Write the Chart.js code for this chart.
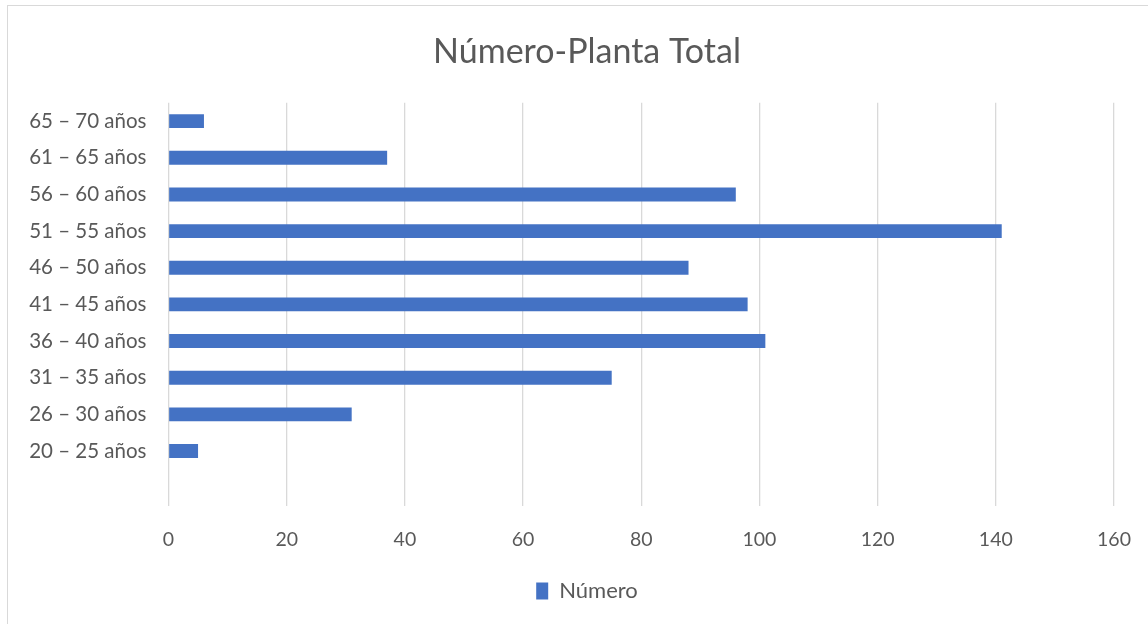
<!DOCTYPE html>
<html>
<head>
<meta charset="utf-8">
<script src="https://cdn.jsdelivr.net/npm/chart.js@4/dist/chart.umd.min.js"></script>
<style>
  html, body { margin: 0; padding: 0; background: #fff; overflow: hidden; }
  #cadre {
    position: absolute; left: 7px; top: 5px; width: 1160px; height: 640px;
    border-left: 1.5px solid #d9d9d9; border-top: 1.5px solid #d9d9d9;
  }
  #graphique { position: absolute; left: 0; top: 0; width: 1148px; height: 624px; }
</style>
</head>
<body>
<div id="cadre"></div>
<canvas id="graphique" width="1148" height="624"></canvas>
<script>
// categories de bas en haut (comme dans Excel), la premiere est vide
var tranches = ['', '20 – 25 años', '26 – 30 años', '31 – 35 años', '36 – 40 años', '41 – 45 años',
    '46 – 50 años', '51 – 55 años', '56 – 60 años', '61 – 65 años', '65 – 70 años'];
var numero = [null, 5, 31, 75, 101, 98, 88, 141, 96, 37, 6];
var xMin = 0;
var xMax = 160;
var xPas = 20;

Chart.defaults.font.family = 'Lato, "Open Sans", sans-serif';
Chart.defaults.color = '#595959';

// les libelles de l'axe y debordent a gauche de la boite de l'axe : pas de clip
Chart.CategoryScale.prototype._computeLabelArea = function () { return null; };

var ctx = document.getElementById('graphique').getContext('2d');
var graphique = new Chart(ctx, {
    type: 'bar',
    data: {
        labels: tranches,
        datasets: [
            {
                label: 'Número',
                data: numero,
                backgroundColor: '#4472C4',
                borderWidth: 0,
                barPercentage: 0.38,
                categoryPercentage: 1
            }
        ]
    },
    options: {
        indexAxis: 'y',
        responsive: false,
        maintainAspectRatio: false,
        animation: false,
        devicePixelRatio: 1,
        // le titre et la legende sont centres un peu a droite, comme dans Excel
        layout: { padding: { left: 60, right: 34, top: 0, bottom: 12 } },
        plugins: {
            title: {
                display: true,
                text: 'Número-Planta Total',
                color: '#595959',
                font: { size: 34, weight: 'normal' },
                padding: { top: 32, bottom: 30 }
            },
            legend: {
                position: 'bottom',
                labels: {
                    boxWidth: 12,
                    boxHeight: 17,
                    color: '#595959',
                    font: { size: 22 },
                    padding: 10
                }
            },
            tooltip: { enabled: false }
        },
        scales: {
            x: {
                min: xMin,
                max: xMax,
                ticks: { stepSize: xPas, padding: 22, font: { size: 19.5 }, color: '#595959' },
                grid: { color: '#d9d9d9', lineWidth: 1.3, drawTicks: false },
                border: { display: false },
                afterFit: function (scale) {
                    scale.height = 64;
                    scale.paddingLeft = 0;
                    scale.paddingRight = 0;
                }
            },
            y: {
                reverse: true,
                ticks: { padding: 14, font: { size: 20.5 }, color: '#595959', autoSkip: false },
                grid: { display: false },
                border: { display: false },
                afterFit: function (scale) { scale.width = 108.5; }
            }
        }
    }
});
</script>
</body>
</html>
